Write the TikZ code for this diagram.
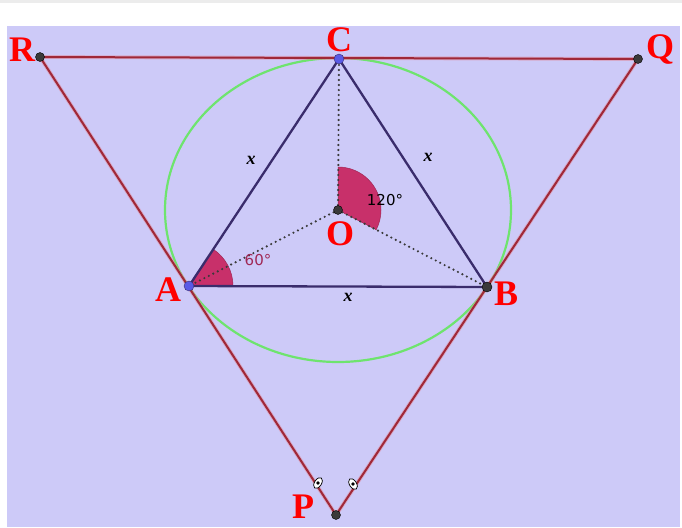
\documentclass[tikz,border=0pt]{standalone}
\usepackage{fontspec}
\setmainfont{Liberation Serif}
\newfontfamily\lblsans{DejaVu Sans}
\usetikzlibrary{shapes.geometric}
\definecolor{bgl}{HTML}{CDCAF8}
\definecolor{redl}{HTML}{A02838}
\definecolor{halo}{HTML}{E08898}
\definecolor{navy}{HTML}{3A2C6C}
\definecolor{greenc}{HTML}{6EE46E}
\definecolor{wedge}{HTML}{C8306A}
\definecolor{ptblue}{HTML}{5A5AE6}
\definecolor{ptgrey}{HTML}{3A3A3A}
\tikzset{
  redline/.style={draw=redl, line width=2pt},
  haloline/.style={draw=halo, line width=3.8pt, opacity=0.5},
  triline/.style={draw=navy, line width=2.3pt},
  dotline/.style={draw=ptgrey, line width=2.4pt, line cap=round, dash pattern=on 0pt off 5pt},
  bigl/.style={text=red, font=\fontsize{36}{36}\selectfont\bfseries, inner sep=0pt},
  xl/.style={font=\fontsize{18}{18}\selectfont\bfseries\itshape, inner sep=0pt},
  degl/.style={font=\lblsans\fontsize{15}{15}\selectfont, inner sep=0pt},
  dotg/.style={circle, fill=ptgrey, draw=black, inner sep=0pt, minimum size=9pt},
  dotb/.style={circle, fill=ptblue, draw=navy, inner sep=0pt, minimum size=10pt},
  eqmark/.style={ellipse, fill=white, draw=black, line width=0.7pt, inner sep=0pt, minimum width=7pt, minimum height=12pt},
}
\begin{document}
\begin{tikzpicture}[x=1pt,y=-1pt]
\useasboundingbox (0,0) rectangle (682,527);
\fill[white] (0,0) rectangle (682,527);
\fill[gray!15] (0,0) rectangle (682,3);
\fill[bgl] (7,26) rectangle (680,527);
% points
\coordinate (R) at (40,57);
\coordinate (Q) at (638,59);
\coordinate (C) at (339,59);
\coordinate (P) at (336,515);
\coordinate (A) at (189,286);
\coordinate (B) at (487,287);
\coordinate (O) at (338,210);
% circle
\draw[greenc, line width=2.2pt] (O) ellipse [x radius=173, y radius=152];
% wedges
\fill[wedge, draw=wedge!80!black, line width=0.5pt] (A) -- ++(0:44) arc[start angle=0, end angle=-56.5, radius=44] -- cycle;
\fill[wedge, draw=wedge!80!black, line width=0.5pt] (O) -- ++(-90:43) arc[start angle=-90, end angle=27.3, radius=43] -- cycle;
% big triangle
\draw[haloline] (R) -- (Q) -- (P) -- cycle;
\draw[redline] (R) -- (Q) -- (P) -- cycle;
% equilateral triangle
\draw[triline] (A) -- (B) -- (C) -- cycle;
% dotted radii
\draw[dotline] (O) -- (C);
\draw[dotline] (O) -- (A);
\draw[dotline] (O) -- (B);
% equal-length marks
\node[eqmark, rotate=-33] (m1) at (318,483) {};
\fill[black] (m1.center) circle (1.8pt);
\node[eqmark, rotate=33] (m2) at (353,484) {};
\fill[black] (m2.center) circle (1.8pt);
% points
\node[dotg] (nR) at (R) {};
\node[dotg] (nQ) at (Q) {};
\node[dotg] (nP) at (P) {};
\node[dotg, minimum size=10pt] (nB) at (B) {};
\node[dotg] (nO) at (O) {};
\node[dotb] (nA) at (A) {};
\node[dotb] (nC) at (C) {};
% labels
\node[bigl] (lR) at (22,50) {R};
\node[bigl] (lC) at (339,40) {C};
\node[bigl] (lQ) at (660,50) {Q};
\node[bigl] (lA) at (168,290) {A};
\node[bigl] (lB) at (506,294) {B};
\node[bigl] (lO) at (340,234) {O};
\node[bigl] (lP) at (303,507) {P};
\node[xl] (x1) at (251,160) {x};
\node[xl] (x2) at (428,157) {x};
\node[xl] (x3) at (348,297) {x};
\node[degl] (d120) at (385,200) {120°};
\node[degl, text=wedge!80!black] (d60) at (258,260) {60°};
\end{tikzpicture}
\end{document}
